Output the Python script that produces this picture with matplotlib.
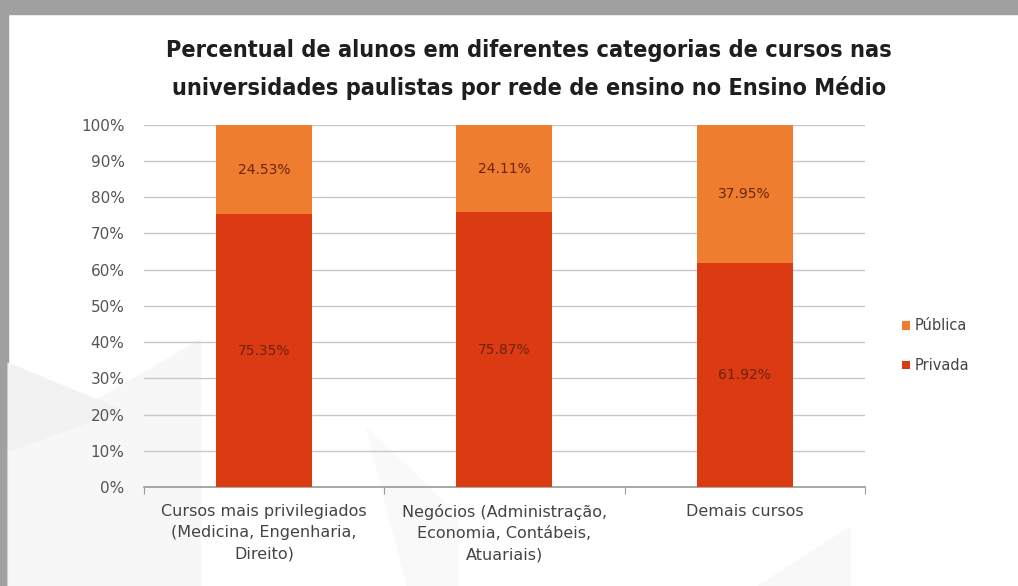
import numpy as np
import matplotlib.pyplot as plt
from matplotlib.patches import Polygon, Rectangle

# Dados
categorias = ["Cursos mais privilegiados\n(Medicina, Engenharia,\nDireito)",
              "Negócios (Administração,\nEconomia, Contábeis,\nAtuariais)",
              "Demais cursos"]
privada = [75.35, 75.87, 61.92]
publica = [24.53, 24.11, 37.95]
yticks = np.arange(0, 101, 10)

cor_privada = "#DC3A12"
cor_publica = "#EE7D30"
cor_rotulo = "#6B2410"

fig = plt.figure(figsize=(10.18, 5.86), dpi=100)
fig.patch.set_facecolor("white")

# moldura cinza e triangulos de fundo bem claros
fig.patches.append(Rectangle((0, 0.976), 1, 0.024, transform=fig.transFigure,
                             color="#a0a0a0", zorder=-3))
fig.patches.append(Rectangle((0, 0), 0.008, 1, transform=fig.transFigure,
                             color="#a0a0a0", zorder=-3))
for pts, c in [([(0.008, 0.0), (0.008, 0.23), (0.197, 0.42), (0.197, 0.0)], "#f7f7f7"),
               ([(0.008, 0.23), (0.008, 0.38), (0.12, 0.30)], "#f2f2f2"),
               ([(0.36, 0.27), (0.45, 0.12), (0.45, 0.0), (0.40, 0.0)], "#f9f9f9"),
               ([(0.745, 0.0), (0.835, 0.1), (0.835, 0.0)], "#f8f8f8")]:
    fig.patches.append(Polygon(pts, closed=True, transform=fig.transFigure,
                               color=c, zorder=-2))

ax = fig.add_axes([0.1415, 0.169, 0.708, 0.618])
ax.set_facecolor("none")

x = np.arange(len(categorias))
w = 0.4
ax.bar(x, privada, w, color=cor_privada, label="Privada", zorder=3)
ax.bar(x, publica, w, bottom=privada, color=cor_publica, label="Pública", zorder=3)

for i in range(len(x)):
    ax.text(x[i], privada[i] / 2, f"{privada[i]:.2f}%", ha="center", va="center",
            fontsize=10, color=cor_rotulo, zorder=4)
    ax.text(x[i], privada[i] + publica[i] / 2, f"{publica[i]:.2f}%", ha="center",
            va="center", fontsize=10, color=cor_rotulo, zorder=4)

ax.set_xlim(-0.5, 2.5)
ax.set_ylim(0, 100)
ax.set_yticks(yticks)
ax.set_yticklabels([f"{v}%" for v in yticks], fontsize=11, color="#555555")
ax.tick_params(axis="y", length=0, pad=14)
ax.grid(axis="y", color="#c8c8c8", linewidth=1, zorder=0)

ax.set_xticks([-0.5, 0.5, 1.5, 2.5])
ax.set_xticklabels([])
ax.tick_params(axis="x", length=5, color="#9a9a9a", direction="out")
ax.set_xticks(x, minor=True)
ax.set_xticklabels(categorias, minor=True, fontsize=11.5, color="#444444",
                   linespacing=1.55)
ax.tick_params(axis="x", which="minor", length=0, pad=12)

for s in ["top", "right", "left"]:
    ax.spines[s].set_visible(False)
ax.spines["bottom"].set_color("#9a9a9a")
ax.spines["bottom"].set_linewidth(1.2)

fig.text(0.520, 0.882, "Percentual de alunos em diferentes categorias de cursos nas\n"
         "universidades paulistas por rede de ensino no Ensino Médio",
         ha="center", va="center", fontsize=16.8, fontweight="bold", color="#1e1e1e",
         family="DejaVu Sans", fontstretch="condensed", linespacing=1.75)

h, l = ax.get_legend_handles_labels()
leg = fig.legend(h[::-1], l[::-1], loc="center left", bbox_to_anchor=(0.873, 0.41),
                 frameon=False, handlelength=0.55, handleheight=0.55, handletextpad=0.3,
                 labelspacing=1.7, prop={"size": 10.5})
for t in leg.get_texts():
    t.set_color("#444444")

fig.savefig("out.png", dpi=100)
